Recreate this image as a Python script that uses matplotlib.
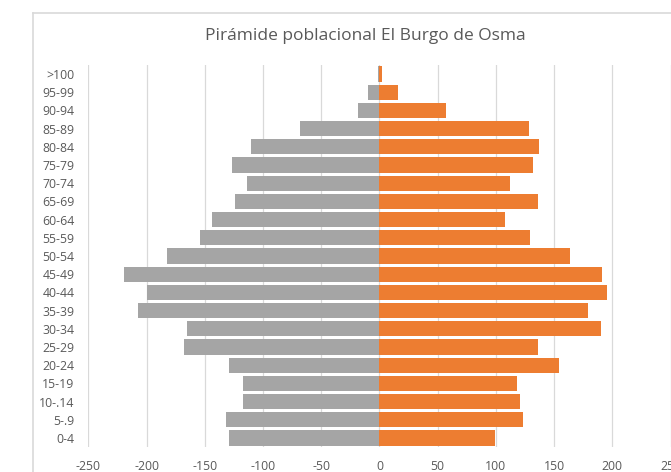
import numpy as np
import matplotlib.pyplot as plt
from matplotlib.lines import Line2D

# age groups, bottom to top
groups = ['0-4', '5-.9', '10-.14', '15-19', '20-24', '25-29', '30-34', '35-39',
          '40-44', '45-49', '50-54', '55-59', '60-64', '65-69', '70-74', '75-79',
          '80-84', '85-89', '90-94', '95-99', '>100']

# left side (gray) and right side (orange)
hombres = [129, 132, 117, 117, 129, 168, 165, 207, 200, 219, 182, 154, 144,
           124, 114, 127, 110, 68, 18, 10, 1]
mujeres = [99, 123, 121, 118, 154, 136, 190, 179, 195, 191, 164, 129, 108,
           136, 112, 132, 137, 128, 57, 16, 2]

xticks = [-250, -200, -150, -100, -50, 0, 50, 100, 150, 200, 250]

W, H = 671, 472
fig = plt.figure(figsize=(W / 100, H / 100), dpi=100)
plt.rcParams['font.family'] = ['Open Sans', 'DejaVu Sans']

# plot area in pixels
x0, x1 = 88.3, 670.6
ytop, ybot = 65, 447
ax = fig.add_axes([x0 / W, 1 - ybot / H, (x1 - x0) / W, (ybot - ytop) / H])

y = np.arange(len(groups))
ax.barh(y, -np.array(hombres), height=0.84, color='#A5A5A5', zorder=3)
ax.barh(y, mujeres, height=0.84, color='#ED7D31', zorder=3)

ax.set_xlim(-250, 250)
ax.set_ylim(-0.5, len(groups) - 0.5)
ax.set_xticks(xticks)
ax.set_xticklabels([str(v) for v in xticks])
ax.set_yticks(y)
ax.set_yticklabels(groups)
ax.tick_params(length=0, labelsize=8.8, labelcolor='#595959')
ax.tick_params(axis='x', pad=9)
ax.tick_params(axis='y', pad=10)
for lbl in ax.get_xticklabels():
    lbl.set_clip_on(False)
ax.grid(axis='x', color='#D9D9D9', lw=0.9, zorder=0)
for s in ax.spines.values():
    s.set_visible(False)

fig.text(365 / W, 1 - 36 / H, 'Pirámide poblacional El Burgo de Osma',
         ha='center', va='center', fontsize=12.5, color='#595959')

# chart border (cropped)
fig.add_artist(Line2D([33 / W, 1], [1 - 12.5 / H, 1 - 12.5 / H], color='#D9D9D9', lw=1.2))
fig.add_artist(Line2D([33 / W, 33 / W], [0, 1 - 12.5 / H], color='#D9D9D9', lw=1.2))

fig.savefig('out.png', dpi=100)
